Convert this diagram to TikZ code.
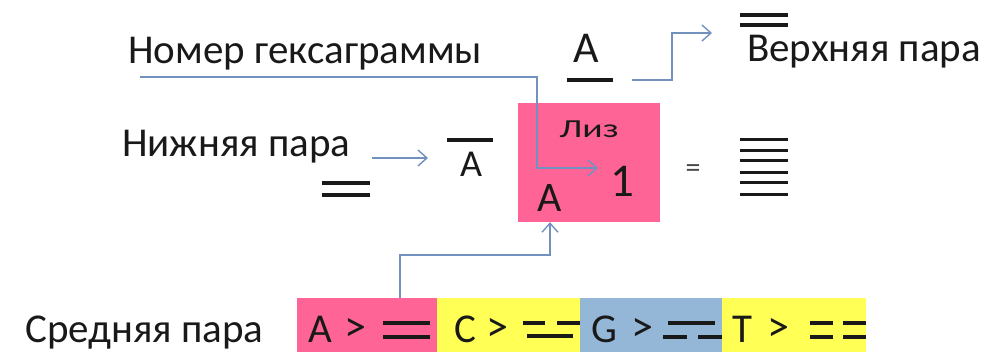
\documentclass[tikz,border=0pt]{standalone}
\usepackage{fontspec}
\setmainfont{Carlito}
\usetikzlibrary{arrows.meta}
\definecolor{pinkc}{RGB}{255,100,150}
\definecolor{yelc}{RGB}{255,255,85}
\definecolor{bluec}{RGB}{149,183,215}
\definecolor{arrc}{RGB}{115,145,190}
\definecolor{inkc}{RGB}{25,25,25}
\tikzset{
  lbl/.style={anchor=base west,inner sep=0pt,text=inkc,font=\fontsize{41}{48}\selectfont},
  glyph/.style={anchor=base,inner sep=0pt,text=inkc,font=\fontsize{41}{48}\selectfont},
  gt/.style={anchor=base,inner sep=0pt,text=inkc,font=\fontsize{44}{50}\selectfont},
  bar/.style={draw=inkc,line width=3.2pt},
  arr/.style={draw=arrc,line width=1.4pt,-{Straight Barb[length=9pt,width=16pt,line width=1.4pt]}},
}
\begin{document}
\begin{tikzpicture}[x=1pt,y=-1pt]
\useasboundingbox (0,0) rectangle (996,352);
% boxes
\fill[pinkc] (518,103) rectangle (660,222);
\fill[pinkc] (297,298) rectangle (437,360);
\fill[yelc] (437,298) rectangle (580,360);
\fill[bluec] (580,298) rectangle (722,360);
\fill[yelc] (722,298) rectangle (866,360);
\node[draw=none,minimum width=142pt,minimum height=119pt,inner sep=0pt] (box) at (589,162.5) {};

% labels
\node[lbl] (nomer) at (128,64) {Номер гексаграммы};
\node[lbl] (verh) at (747,62) {Верхняя пара};
\node[lbl] (nizh) at (122,157) {Нижняя пара};
\node[lbl] (sred) at (25,343) {Средняя пара};

% top A with underline
\node[glyph,font=\fontsize{44}{50}\selectfont] (atop) at (586,63) {A};
\draw[bar] (567,80) -- (613,80);
% double line above Верхняя пара
\draw[bar] (740,15) -- (788,15);
\draw[bar] (740,25) -- (788,25);
% lower pair: overlined A and double line
\node[glyph,font=\fontsize{38}{44}\selectfont] (alow) at (471,177) {A};
\draw[bar] (447,140) -- (493,140);
\draw[bar] (322,183) -- (370,183);
\draw[bar] (322,195) -- (370,195);

% inside pink box
\node[anchor=base,inner sep=0pt,text=inkc,font=\fontsize{26}{30}\selectfont] (liz) at (589,138) {\scalebox{1.45}[1]{Лиз}};
\node[glyph,font=\fontsize{47}{52}\selectfont] (one) at (622,197) {1};
\node[glyph,font=\fontsize{42}{48}\selectfont] (abox) at (550,212) {A};
\node[glyph,font=\fontsize{30}{36}\selectfont,text=inkc!80] (eq) at (693,178) {=};
% hexagram
\foreach \yy in {140,151,161,173,183,195} \draw[bar,line width=3pt] (740,\yy) -- (788,\yy);

% bottom row
\node[glyph] (ba) at (320,343) {A};
\node[gt] (bag) at (355,342) {>};
\draw[bar] (383,323) -- (430,323);
\draw[bar] (383,337) -- (430,337);
\node[glyph] (bc) at (465,343) {C};
\node[gt] (bcg) at (497,342) {>};
\draw[bar] (523,323) -- (545,323);
\draw[bar] (557,323) -- (580,323);
\draw[bar] (527,336) -- (573,336);
\node[glyph] (bg) at (604,343) {G};
\node[gt] (bgg) at (642,342) {>};
\draw[bar] (668,323) -- (715,323);
\draw[bar] (663,337) -- (687,337);
\draw[bar] (698,337) -- (722,337);
\node[glyph] (bt) at (742,343) {T};
\node[gt] (btg) at (778,342) {>};
\draw[bar] (810,323) -- (833,323);
\draw[bar] (843,323) -- (866,323);
\draw[bar] (810,337) -- (833,337);
\draw[bar] (843,337) -- (866,337);

% connectors
\coordinate (n1) at (140,77);
\coordinate (n2) at (598,168);
\draw[arr] (n1) -- (537,77) |- (n2);
\coordinate (u1) at (632,80);
\coordinate (u2) at (712,33);
\draw[arr] (u1) -- (672,80) |- (u2);
\coordinate (l1) at (372,158);
\coordinate (l2) at (428,158);
\draw[arr] (l1) -- (l2);
\coordinate (p1) at (400,298);
\draw[arr] (p1) -- (400,255) -| (box.south -| 550,0);
\end{tikzpicture}
\end{document}
